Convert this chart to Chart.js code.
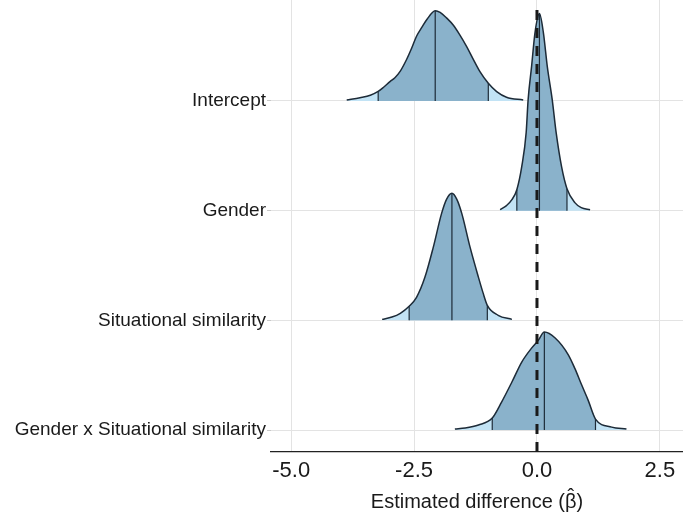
<!DOCTYPE html>
<html>
<head>
<meta charset="utf-8">
<script src="https://cdn.jsdelivr.net/npm/chart.js@4.4.1/dist/chart.umd.min.js"></script>
<style>
  html, body { margin: 0; padding: 0; background: #fff; }
  #wrap { width: 683px; height: 518px; }
</style>
</head>
<body>
<div id="wrap"><canvas id="ridges"></canvas></div>
<script>
// parameter rows, top first
const params = ['Intercept', 'Gender', 'Situational similarity', 'Gender x Situational similarity'];
const rowBase = [4, 3, 2, 1];

// posterior densities (x = estimate, h = height in row units)
const interceptX = [-3.87, -3.60, -3.39, -3.23, -3.12, -2.99, -2.89, -2.78, -2.65, -2.55, -2.45, -2.34, -2.24, -2.07, -1.97, -1.84, -1.70, -1.57, -1.43, -1.29, -1.16, -0.99, -0.82, -0.62, -0.28];
const interceptH = [0.009, 0.030, 0.052, 0.087, 0.125, 0.176, 0.212, 0.272, 0.380, 0.480, 0.590, 0.672, 0.742, 0.823, 0.808, 0.757, 0.690, 0.602, 0.495, 0.374, 0.267, 0.161, 0.085, 0.034, 0.009];

const genderX = [-0.75, -0.62, -0.51, -0.41, -0.31, -0.22, -0.18, -0.11, -0.04, 0.05, 0.13, 0.21, 0.31, 0.39, 0.50, 0.61, 0.77, 0.90, 1.08];
const genderH = [0.009, 0.046, 0.100, 0.191, 0.401, 0.711, 1.012, 1.313, 1.623, 1.796, 1.623, 1.313, 1.012, 0.711, 0.401, 0.200, 0.073, 0.027, 0.009];

const simX = [-3.15, -2.95, -2.78, -2.60, -2.45, -2.28, -2.11, -1.94, -1.84, -1.73, -1.63, -1.53, -1.36, -1.19, -1.10, -1.01, -0.79, -0.51];
const simH = [0.009, 0.030, 0.064, 0.128, 0.210, 0.392, 0.665, 0.975, 1.103, 1.158, 1.103, 0.975, 0.665, 0.392, 0.255, 0.137, 0.046, 0.009];

const interX = [-1.67, -1.46, -1.19, -0.91, -0.72, -0.51, -0.31, -0.11, 0.03, 0.15, 0.37, 0.64, 0.77, 0.91, 1.04, 1.19, 1.52, 1.82];
const interH = [0.009, 0.018, 0.046, 0.109, 0.255, 0.438, 0.620, 0.747, 0.820, 0.893, 0.839, 0.684, 0.562, 0.410, 0.273, 0.100, 0.027, 0.009];

// medians and interval bounds
const medians = [-2.07, 0.05, -1.73, 0.15];
const lower = [-3.23, -0.41, -2.60, -0.91];
const upper = [-0.99, 0.61, -1.01, 1.19];

const xTicks = [-5, -2.5, 0, 2.5];
const refValue = 0;
const xTitle = 'Estimated difference (\u03B2)';

const densX = [interceptX, genderX, simX, interX];
const densH = [interceptH, genderH, simH, interH];

const tailBlue = '#c2e3f5';
const mainBlue = '#8ab2cb';
const lineDark = '#1d2b38';
const fontFam = '"Liberation Sans", Arial, sans-serif';

function heightAt(i, v) {
  return densH[i][densX[i].indexOf(v)];
}

const datasets = [];
let order = 1000;
params.forEach((name, i) => {
  const base = rowBase[i];
  const pts = densX[i].map((x, k) => ({ x: x, y: base + densH[i][k] }));
  const inner = pts.filter(p => p.x >= lower[i] && p.x <= upper[i]);

  // light tails
  datasets.push({
    data: pts, fill: { value: base }, backgroundColor: tailBlue,
    borderWidth: 0, cubicInterpolationMode: 'monotone', order: order--
  });
  // interval area
  datasets.push({
    data: inner, fill: { value: base }, backgroundColor: mainBlue,
    borderWidth: 0, cubicInterpolationMode: 'monotone', order: order--
  });
  // median + interval lines
  const segs = [];
  [lower[i], medians[i], upper[i]].forEach(v => {
    segs.push({ x: v, y: base }, { x: v, y: base + heightAt(i, v) }, { x: v, y: null });
  });
  datasets.push({
    data: segs, fill: false, borderColor: lineDark, borderWidth: 1.2,
    tension: 0, spanGaps: false, order: order--
  });
  // outline
  datasets.push({
    data: pts, fill: false, borderColor: lineDark, borderWidth: 1.5,
    cubicInterpolationMode: 'monotone', order: order--
  });
});

// dashed reference line at zero
const refLine = {
  id: 'refLine',
  afterDatasetsDraw(chart) {
    const { ctx, chartArea, scales } = chart;
    const px = scales.x.getPixelForValue(refValue);
    ctx.save();
    ctx.strokeStyle = '#1a1a1a';
    ctx.lineWidth = 3;
    ctx.setLineDash([10, 8]);
    ctx.beginPath();
    ctx.moveTo(px, chartArea.top + 10);
    ctx.lineTo(px, chartArea.bottom + 4);
    ctx.stroke();
    ctx.restore();
  }
};

// x title with a hat over beta
const hatTitle = {
  id: 'hatTitle',
  afterDraw(chart) {
    const { ctx, chartArea } = chart;
    const cx = (chartArea.left + chartArea.right) / 2;
    const cy = chart.height - 16;
    ctx.save();
    ctx.font = '20px ' + fontFam;
    ctx.fillStyle = '#1a1a1a';
    ctx.textBaseline = 'middle';
    ctx.textAlign = 'left';
    const w = ctx.measureText(xTitle).width;
    const x0 = cx - w / 2;
    ctx.fillText(xTitle, x0, cy);
    const pre = ctx.measureText(xTitle.slice(0, xTitle.indexOf('\u03B2'))).width;
    const bw = ctx.measureText('\u03B2').width;
    ctx.textAlign = 'center';
    ctx.fillText('\u02C6', x0 + pre + bw / 2, cy - 5);
    ctx.restore();
  }
};

new Chart(document.getElementById('ridges'), {
  type: 'line',
  data: { datasets: datasets },
  options: {
    responsive: true,
    maintainAspectRatio: false,
    animation: false,
    layout: { padding: 0 },
    elements: { point: { radius: 0 } },
    plugins: { legend: { display: false }, tooltip: { enabled: false } },
    scales: {
      x: {
        type: 'linear', min: -5.41, max: 2.97,
        afterBuildTicks: s => { s.ticks = xTicks.map(v => ({ value: v })); },
        afterFit: s => { s.height = 66; s.paddingLeft = 0; s.paddingRight = 0; },
        grid: { color: '#e3e3e3', drawTicks: false },
        border: { color: '#222', width: 1.3 },
        ticks: {
          padding: 6, color: '#1a1a1a', maxRotation: 0,
          font: { family: fontFam, size: 22 },
          callback: v => v.toFixed(1)
        }
      },
      y: {
        type: 'linear', min: 0.8, max: 4.92,
        afterBuildTicks: s => { s.ticks = rowBase.map(v => ({ value: v })); },
        afterFit: s => { s.width = 271; s.paddingTop = 0; s.paddingBottom = 0; },
        grid: { color: '#e3e3e3', tickLength: 4, tickColor: '#c8c8c8' },
        border: { display: false },
        ticks: {
          padding: 1, color: '#1a1a1a',
          font: { family: fontFam, size: 19 },
          callback: v => params[rowBase.indexOf(v)]
        }
      }
    }
  },
  plugins: [refLine, hatTitle]
});
</script>
</body>
</html>
